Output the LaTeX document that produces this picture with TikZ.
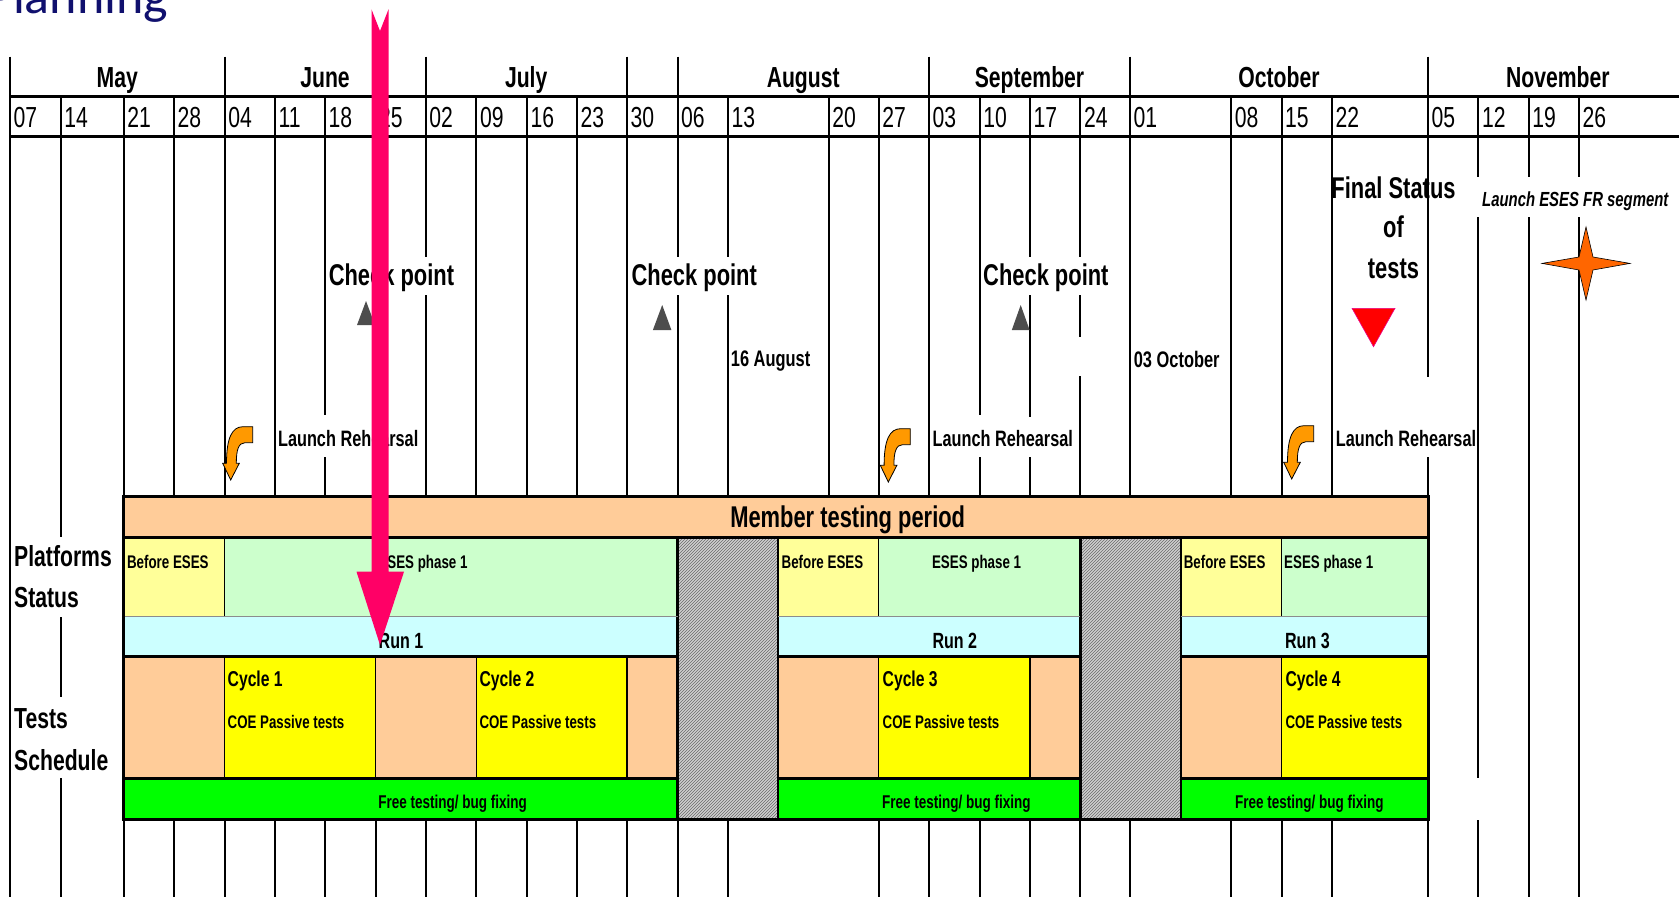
\documentclass[tikz,border=0pt]{standalone}
\usepackage{fontspec}
\newfontfamily\narfont[FakeStretch=0.73]{Liberation Sans}
\newfontfamily\titlefont{Carlito}
\usetikzlibrary{patterns}
\newcommand\myfs[1]{\fontsize{#1}{#1}\selectfont}
\definecolor{peach}{HTML}{FFCC99}
\definecolor{lyellow}{HTML}{FFFF99}
\definecolor{lgreen}{HTML}{CCFFCC}
\definecolor{lcyan}{HTML}{CCFFFF}
\definecolor{cyell}{HTML}{FFFF00}
\definecolor{fgreen}{HTML}{00FF00}
\definecolor{pinkar}{HTML}{FF0066}
\definecolor{trigray}{HTML}{4D4D4D}
\definecolor{orar}{HTML}{FF9900}
\definecolor{staror}{HTML}{FF6600}
\definecolor{titleblue}{HTML}{10106E}
\definecolor{hatchbg}{HTML}{D0D0D0}
\definecolor{hatchfg}{HTML}{6A6A6A}
\newcommand\oarrow[2]{\draw[orarrow, shift={(#1,#2)}] (252.7,426.7) -- (243,426.7) .. controls (232,426.7) and (226.5,438) .. (226.5,463.3) -- (222.7,463.3) -- (230.7,480) -- (239.3,463.3) -- (236.3,463.3) .. controls (236.3,450) and (238.5,442.7) .. (245,442.7) -- (252.7,442.7) -- cycle;}
\begin{document}
\begin{tikzpicture}[x=1pt,y=-1pt,
 vline/.style={line width=2pt},
 hline/.style={line width=3pt},
 sep/.style={line width=1.6pt},
 wk/.style={inner sep=0pt, anchor=base west, font=\narfont\myfs{29}},
 mon/.style={inner sep=0pt, anchor=base, font=\narfont\bfseries\myfs{29}},
 bigt/.style={inner sep=0pt, font=\narfont\bfseries\myfs{30}},
 midt/.style={inner sep=0pt, anchor=base west, font=\narfont\bfseries\myfs{22.3}},
 datet/.style={inner sep=0pt, anchor=base west, font=\narfont\bfseries\myfs{22.5}},
 smallt/.style={inner sep=0pt, font=\narfont\bfseries\myfs{18.3}},
 cyct/.style={inner sep=0pt, anchor=base west, font=\narfont\bfseries\myfs{21.5}},
 coet/.style={inner sep=0pt, anchor=base west, font=\narfont\bfseries\myfs{18.2}},
 runt/.style={inner sep=0pt, anchor=base, font=\narfont\bfseries\myfs{22}},
 freet/.style={inner sep=0pt, anchor=base, font=\narfont\bfseries\myfs{18.5}},
 tri/.style={fill=trigray},
 orarrow/.style={fill=orar, draw=black, line width=0.8pt},
 gap/.style={fill=white}
]
\useasboundingbox (0,0) rectangle (1679,897);
\clip (0,0) rectangle (1679,897);
\fill[white] (0,0) rectangle (1679,897);

% title
\node[inner sep=0pt, anchor=base west, font=\titlefont\myfs{52}, text=titleblue] (title) at (-14,13.3) {Planning};

% week grid lines and labels
\foreach \x/\t in {10/07, 60.7/14, 123.6/21, 173.9/28, 224.6/04, 275/11, 325/18, 375.5/25, 425.7/02, 476.4/09, 526.8/16, 576.8/23, 626.8/30, 677.5/06, 727.9/13, 828.6/20, 878.6/27, 928.9/03, 979.6/10, 1030/17, 1080.4/24, 1130/01, 1231.2/08, 1281.5/15, 1331.8/22, 1428/05, 1478.3/12, 1528.6/19, 1578.8/26}{
  \draw[vline] (\x,96.7) -- (\x,897);
  \node[wk] (w\t) at (\x+3.5,127.3) {\t};
}
% month row separators
\foreach \x in {10, 224.6, 425.7, 626.8, 677.5, 928.9, 1130, 1428}{
  \draw[vline] (\x,56.7) -- (\x,96.7);
}
\draw[hline] (9,96.7) -- (1679,96.7);
\draw[hline] (9,136) -- (1679,136);
\node[mon] (mMay) at (117.3,87.3) {May};
\node[mon] (mJun) at (325,87.3) {June};
\node[mon] (mJul) at (526.2,87.3) {July};
\node[mon] (mAug) at (803.2,87.3) {August};
\node[mon] (mSep) at (1029.5,87.3) {September};
\node[mon] (mOct) at (1279,87.3) {October};
\node[mon] (mNov) at (1557.8,87.3) {November};

% gaps in grid lines (white label backgrounds)
\foreach \x/\a/\b in {60.7/537/617, 60.7/697/778, 325/415/457, 425.7/256.7/295, 677.5/256.7/295, 727.9/256.7/295, 1030/256.7/295, 1080.4/256.7/295, 1080.4/336.7/376, 979.6/415/457, 1030/416.7/457, 1428/376.7/457, 1478.3/176.7/216.7, 1528.6/176.7/216.7, 1578.8/176.7/216.7, 1478.3/778/820, 828.6/821/897}{
  \fill[gap] (\x-2,\a) rectangle (\x+2,\b);
}

% ---------- blocks ----------
\fill[peach] (123.6,496.7) rectangle (1428,537.3);
\fill[lyellow] (123.6,537.3) rectangle (224.6,616);
\fill[lgreen] (224.6,537.3) rectangle (677.5,616);
\fill[lyellow] (777.9,537.3) rectangle (878.6,616);
\fill[lgreen] (878.6,537.3) rectangle (1080.4,616);
\fill[lyellow] (1180.6,537.3) rectangle (1281.5,616);
\fill[lgreen] (1281.5,537.3) rectangle (1428,616);
\fill[lcyan] (123.6,616) rectangle (677.5,656.7);
\fill[lcyan] (777.9,616) rectangle (1080.4,656.7);
\fill[lcyan] (1180.6,616) rectangle (1428,656.7);
\fill[peach] (123.6,656.7) rectangle (224.6,778.3);
\fill[cyell] (224.6,656.7) rectangle (375.5,778.3);
\fill[peach] (375.5,656.7) rectangle (476.4,778.3);
\fill[cyell] (476.4,656.7) rectangle (626.8,778.3);
\fill[peach] (626.8,656.7) rectangle (677.5,778.3);
\fill[peach] (777.9,656.7) rectangle (878.6,778.3);
\fill[cyell] (878.6,656.7) rectangle (1030,778.3);
\fill[peach] (1030,656.7) rectangle (1080.4,778.3);
\fill[peach] (1180.6,656.7) rectangle (1281.5,778.3);
\fill[cyell] (1281.5,656.7) rectangle (1428,778.3);
\fill[fgreen] (123.6,778.3) rectangle (677.5,819.3);
\fill[fgreen] (777.9,778.3) rectangle (1080.4,819.3);
\fill[fgreen] (1180.6,778.3) rectangle (1428,819.3);
\foreach \a/\b in {677.5/777.9, 1080.4/1180.6}{
  \fill[hatchbg] (\a,537.3) rectangle (\b,819.3);
  \fill[pattern=north east lines, pattern color=hatchfg] (\a,537.3) rectangle (\b,819.3);
  \draw[hline] (\a,537.3) -- (\a,819.3);
  \draw[vline] (\b,537.3) -- (\b,819.3);
}
\foreach \x in {224.6, 878.6, 1281.5}{ \draw[sep] (\x,537.3) -- (\x,616); }
\foreach \x in {224.6, 375.5, 476.4, 626.8, 878.6, 1030, 1281.5}{ \draw[sep] (\x,656.7) -- (\x,778.3); }
\foreach \a/\b in {123.6/677.5, 777.9/1080.4, 1180.6/1428}{
  \draw[line width=1pt, black!45] (\a,616) -- (\b,616);
  \draw[hline] (\a,656.7) -- (\b,656.7);
  \draw[hline] (\a,778.3) -- (\b,778.3);
}
\draw[hline] (123.6,537.3) -- (1428,537.3);
\draw[hline] (123.6,496.7) rectangle (1428,819.3);

% ---------- block texts ----------
\node[bigt, anchor=base] (member) at (847.7,527) {Member testing period};
\node[smallt, anchor=base west] (be1) at (126.8,568) {Before ESES};
\node[smallt, anchor=base] (ep1) at (423,568) {ESES phase 1};
\node[smallt, anchor=base west] (be2) at (781.4,568) {Before ESES};
\node[smallt, anchor=base] (ep2) at (976.6,568) {ESES phase 1};
\node[smallt, anchor=base west] (be3) at (1183.6,568) {Before ESES};
\node[smallt, anchor=base west] (ep3) at (1284,568) {ESES phase 1};
\node[runt] (run1) at (401,648.3) {Run 1};
\node[runt] (run2) at (954.8,648.3) {Run 2};
\node[runt] (run3) at (1307.4,648.3) {Run 3};
\node[cyct] (cy1) at (227.5,686.7) {Cycle 1};
\node[cyct] (cy2) at (479.3,686.7) {Cycle 2};
\node[cyct] (cy3) at (882.5,686.7) {Cycle 3};
\node[cyct] (cy4) at (1285.4,686.7) {Cycle 4};
\node[coet] (coe1) at (227.5,728) {COE Passive tests};
\node[coet] (coe2) at (479.3,728) {COE Passive tests};
\node[coet] (coe3) at (882.5,728) {COE Passive tests};
\node[coet] (coe4) at (1285.4,728) {COE Passive tests};
\node[freet] (free1) at (452.7,808.3) {Free testing/ bug fixing};
\node[freet] (free2) at (956.4,808.3) {Free testing/ bug fixing};
\node[freet] (free3) at (1309.3,808.3) {Free testing/ bug fixing};

% left labels
\node[bigt, anchor=base west, font=\narfont\bfseries\myfs{29}] (plat) at (14,566.7) {Platforms};
\node[bigt, anchor=base west, font=\narfont\bfseries\myfs{29}] (stat) at (14,607.7) {Status};
\node[bigt, anchor=base west, font=\narfont\bfseries\myfs{29}] (tests) at (14,728.3) {Tests};
\node[bigt, anchor=base west, font=\narfont\bfseries\myfs{29}] (sched) at (14,770) {Schedule};

% ---------- milestones ----------
\node[bigt, anchor=base west] (cp1) at (328.6,285) {Check point};
\node[bigt, anchor=base west] (cp2) at (631.4,285) {Check point};
\node[bigt, anchor=base west] (cp3) at (983,285) {Check point};
\fill[tri] (357,325) -- (375,325) -- (366,301) -- cycle;
\fill[tri] (652.9,330) -- (671.4,330) -- (662.2,305) -- cycle;
\fill[tri] (1011.8,330) -- (1029.6,330) -- (1020.7,305) -- cycle;
\node[datet] (aug16) at (730.7,366.7) {16 August};
\node[datet] (oct03) at (1133.6,367) {03 October};
\node[midt] (lr1) at (277.9,446.7) {Launch Rehearsal};
\node[midt] (lr2) at (932.5,446.7) {Launch Rehearsal};
\node[midt] (lr3) at (1335.7,446.7) {Launch Rehearsal};
\oarrow{0}{0}
\oarrow{657.6}{2}
\oarrow{1061}{-1}
\node[bigt, anchor=base] (fs1) at (1393.5,198.3) {Final Status};
\node[bigt, anchor=base] (fs2) at (1393.5,237) {of};
\node[bigt, anchor=base] (fs3) at (1393.5,278.3) {tests};
\draw[fill=red, draw=magenta, line width=0.6pt] (1352,308.3) -- (1395,308.3) -- (1373.5,346.7) -- cycle;
\node[inner sep=0pt, anchor=base west, font=\narfont\bfseries\itshape\myfs{20.4}] (launch) at (1482,206.7) {Launch ESES FR segment};
\draw[fill=staror, draw=black, line width=0.6pt] (1630,263.4) -- (1593,257) -- (1586,227) -- (1579,257) -- (1542,263.4) -- (1579,270) -- (1586,300) -- (1593,270) -- cycle;

% ---------- pink arrow ----------
\fill[pinkar] (371.5,9.3) -- (380,31) -- (388.5,9.3) -- (388.5,571.7) -- (404,571.7) -- (380,645) -- (356.5,571.7) -- (371.5,571.7) -- cycle;
\end{tikzpicture}
\end{document}
